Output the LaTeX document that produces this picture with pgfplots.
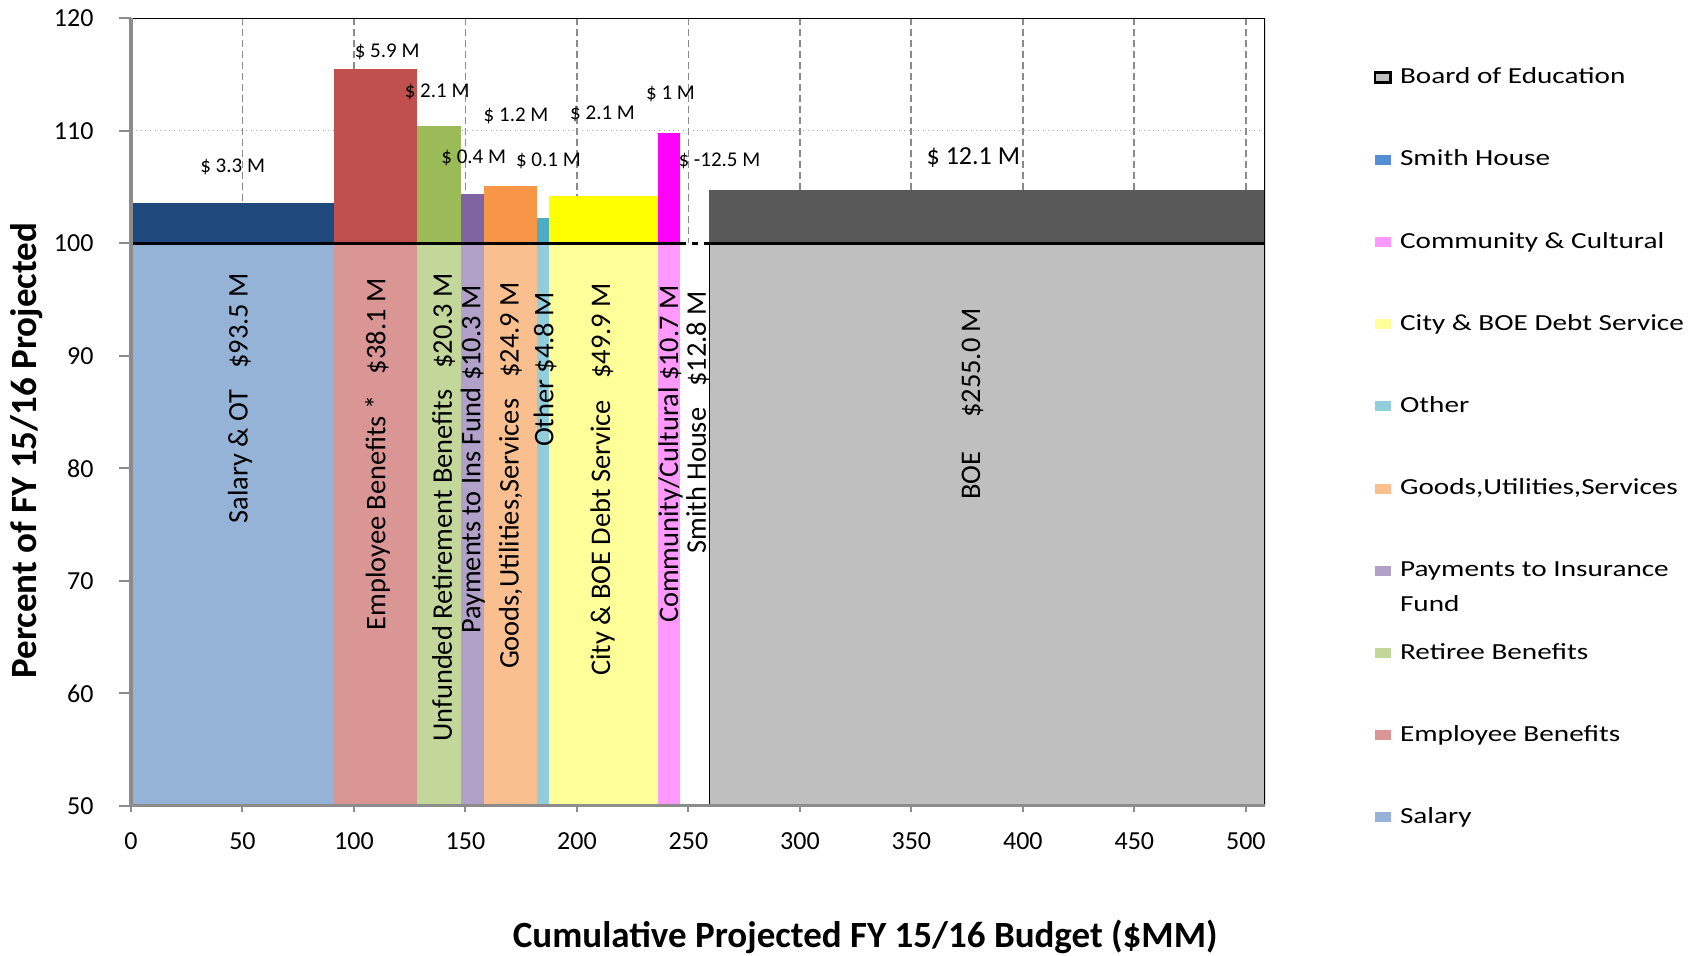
\documentclass[border=0pt]{standalone}
\usepackage{pgfplots}
\pgfplotsset{compat=1.18}
\usepackage{fontspec}
\setmainfont{Carlito}
\newfontfamily\legendfont[FakeStretch=1.27]{Carlito}

% light (budget) and dark (overrun) shades per category
\definecolor{salL}{HTML}{95B3D7}\definecolor{salD}{HTML}{1F497D}
\definecolor{empL}{HTML}{DA9694}\definecolor{empD}{HTML}{C0504D}
\definecolor{retL}{HTML}{C4D79B}\definecolor{retD}{HTML}{9BBB59}
\definecolor{insL}{HTML}{B1A0C7}\definecolor{insD}{HTML}{8064A2}
\definecolor{gooL}{HTML}{FABF8F}\definecolor{gooD}{HTML}{F79646}
\definecolor{othL}{HTML}{92CDDC}\definecolor{othD}{HTML}{4BACC6}
\definecolor{debL}{HTML}{FFFF99}\definecolor{debD}{HTML}{FFFF00}
\definecolor{comL}{HTML}{FF99FF}\definecolor{comD}{HTML}{FF00FF}
\definecolor{smiD}{HTML}{558ED5}
\definecolor{boeL}{HTML}{BFBFBF}\definecolor{boeD}{HTML}{595959}
\definecolor{axgray}{HTML}{8C8C8C}
\definecolor{gridgray}{HTML}{8A8A8A}

% grid behind the bars, axis lines and ticks above them
\pgfplotsset{layers/gridbehind/.define layer set={axis background,axis grid,main,axis ticks,axis lines,axis tick labels,axis descriptions,axis foreground}{}}

\newcommand{\toplab}[3]{\node[font=\fontsize{10.5}{12}\selectfont, inner sep=0pt] at (axis cs:#1,#2) {#3};}
\newcommand{\barlab}[3]{\node[rotate=90, anchor=east, inner sep=0pt, font=\fontsize{14.2}{16}\selectfont] at (axis cs:#1,#2) {#3};}

\begin{document}
\begin{tikzpicture}
\begin{axis}[
  set layers=gridbehind,
  scale only axis, width=567pt, height=393.7pt,
  xmin=0, xmax=508.6, ymin=50, ymax=120,
  xtick={0,50,...,500}, ytick={50,60,...,120},
  axis lines=left,
  axis line style={-, axgray, line width=1.6pt},
  tick align=outside,
  major tick length=6pt,
  x tick style={axgray, line width=1pt, yshift=3pt},
  y tick style={axgray, line width=1pt},
  xmajorgrids, ymajorgrids,
  x grid style={gridgray, line width=0.9pt, dash pattern=on 3.5pt off 2pt},
  y grid style={gray!70, line width=0.4pt, dotted},
  /pgf/number format/assume math mode=true,
  tick label style={font=\fontsize{13}{15}\selectfont},
  yticklabel style={xshift=-9.2pt},
  xticklabel style={yshift=-4.1pt},
  xlabel={Cumulative Projected FY 15/16 Budget (\$MM)},
  ylabel={Percent of FY 15/16 Projected},
  xlabel style={at={(axis description cs:0.6475,-0.1668)}, anchor=center, font=\bfseries\fontsize{18.5}{20}\selectfont},
  ylabel style={at={(axis description cs:-0.0917,0.451)}, anchor=center, font=\bfseries\fontsize{18.5}{20}\selectfont},
  legend image code/.code={\path[#1] (0pt,-2.5pt) rectangle (7.8pt,2.5pt);},
  legend cell align=left,
  legend style={at={(axis description cs:1.096,0.94)}, anchor=north west,
    draw=none, fill=none, inner sep=0pt, outer sep=0pt,
    row sep=29.1pt, column sep=4.1pt,
    font=\legendfont\fontsize{11.5}{17.3}\selectfont,
    nodes={inner sep=0pt, text height=9pt, text depth=3pt}},
]
% legend swatches
\addlegendimage{fill=boeL, draw=black, line width=1.2pt}
\addlegendentry{Board of Education}
\addlegendimage{fill=smiD, draw=none}
\addlegendentry{Smith House}
\addlegendimage{fill=comL, draw=none}
\addlegendentry{Community \& Cultural}
\addlegendimage{fill=debL, draw=none}
\addlegendentry{City \& BOE Debt Service}
\addlegendimage{fill=othL, draw=none}
\addlegendentry{Other}
\addlegendimage{fill=gooL, draw=none}
\addlegendentry{Goods,Utilities,Services}
\addlegendimage{fill=insL, draw=none}
\addlegendentry{\parbox[t]{150pt}{Payments to Insurance\\Fund}}
\addlegendimage{fill=retL, draw=none}
\addlegendentry{Retiree Benefits}
\addlegendimage{fill=empL, draw=none}
\addlegendentry{Employee Benefits}
\addlegendimage{fill=salL, draw=none}
\addlegendentry{Salary}

% budget blocks: width = projected spend, 50..100 percent
\addplot[fill=salL, draw=none, forget plot] coordinates {(0,50) (0,100) (91.2,100) (91.2,50)};
\addplot[fill=empL, draw=none, forget plot] coordinates {(91.2,50) (91.2,100) (128.2,100) (128.2,50)};
\addplot[fill=retL, draw=none, forget plot] coordinates {(128.2,50) (128.2,100) (148.2,100) (148.2,50)};
\addplot[fill=insL, draw=none, forget plot] coordinates {(148.2,50) (148.2,100) (158.1,100) (158.1,50)};
\addplot[fill=gooL, draw=none, forget plot] coordinates {(158.1,50) (158.1,100) (182.3,100) (182.3,50)};
\addplot[fill=othL, draw=none, forget plot] coordinates {(182.3,50) (182.3,100) (187.3,100) (187.3,50)};
\addplot[fill=debL, draw=none, forget plot] coordinates {(187.3,50) (187.3,100) (236.2,100) (236.2,50)};
\addplot[fill=comL, draw=none, forget plot] coordinates {(236.2,50) (236.2,100) (246.3,100) (246.3,50)};
\addplot[fill=white, draw=none, forget plot] coordinates {(246.3,50) (246.3,100) (259.4,100) (259.4,50)};
\addplot[fill=boeL, draw=black, line width=0.8pt, forget plot] coordinates {(259.4,50) (259.4,100) (508.3,100) (508.3,50) (259.4,50)};

% overrun blocks above 100 percent
\addplot[fill=salD, draw=none, forget plot] coordinates {(0,100) (0,103.6) (91.2,103.6) (91.2,100)};
\addplot[fill=empD, draw=none, forget plot] coordinates {(91.2,100) (91.2,115.5) (128.2,115.5) (128.2,100)};
\addplot[fill=retD, draw=none, forget plot] coordinates {(128.2,100) (128.2,110.4) (148.2,110.4) (148.2,100)};
\addplot[fill=insD, draw=none, forget plot] coordinates {(148.2,100) (148.2,104.4) (158.1,104.4) (158.1,100)};
\addplot[fill=gooD, draw=none, forget plot] coordinates {(158.1,100) (158.1,105.1) (182.3,105.1) (182.3,100)};
\addplot[fill=othD, draw=none, forget plot] coordinates {(182.3,100) (182.3,102.3) (187.3,102.3) (187.3,100)};
\addplot[fill=debD, draw=none, forget plot] coordinates {(187.3,100) (187.3,104.2) (236.2,104.2) (236.2,100)};
\addplot[fill=comD, draw=none, forget plot] coordinates {(236.2,100) (236.2,109.8) (246.3,109.8) (246.3,100)};
\addplot[fill=boeD, draw=none, forget plot] coordinates {(259.4,100) (259.4,104.75) (508.3,104.75) (508.3,100)};

% 100 percent reference line
\addplot[black, line width=1.2pt, forget plot] coordinates {(0,100) (246.3,100)};
\addplot[black, line width=1.2pt, dash pattern=on 3pt off 3pt, forget plot] coordinates {(246.3,100) (259.4,100)};
\addplot[black, line width=1.2pt, forget plot] coordinates {(259.4,100) (508.6,100)};

% frame: black on top and right, gray value axes over the blocks
\draw[black, line width=1pt] (rel axis cs:0,1) -- (rel axis cs:1,1) -- (rel axis cs:1,0);
\draw[axgray, line width=1.6pt] (rel axis cs:0,1) -- (rel axis cs:0,0) -- (rel axis cs:1,0);

% overrun amounts
\toplab{45.6}{106.84}{\$ 3.3 M}
\toplab{114.9}{117.04}{\$ 5.9 M}
\toplab{137.3}{113.5}{\$ 2.1 M}
\toplab{153.7}{107.6}{\$ 0.4 M}
\toplab{172.7}{111.3}{\$ 1.2 M}
\toplab{187.2}{107.3}{\$ 0.1 M}
\toplab{211.5}{111.55}{\$ 2.1 M}
\toplab{242.0}{113.3}{\$ 1 M}
\toplab{263.9}{107.3}{\$ -12.5 M}
\node[font=\fontsize{13}{15}\selectfont, inner sep=0pt] at (axis cs:377.8,107.6) {\$ 12.1 M};

% category names and budgets
\barlab{48.9}{97.4}{Salary \& OT\hspace{0.75em}\$93.5 M}
\barlab{110.6}{96.9}{Employee Benefits *\hspace{0.75em}\$38.1 M}
\barlab{140.2}{97.4}{Unfunded Retirement Benefits\hspace{0.75em}\$20.3 M}
\barlab{153.3}{96.3}{Payments to Ins Fund \$10.3 M}
\barlab{170.2}{96.6}{Goods,Utilities,Services\hspace{0.75em}\$24.9 M}
\barlab{185.7}{95.7}{Other \$4.8 M}
\barlab{211.5}{96.5}{City \& BOE Debt Service\hspace{0.75em}\$49.9 M}
\barlab{242.0}{96.3}{Community/Cultural \$10.7 M}
\barlab{254.1}{95.8}{Smith House\hspace{0.75em}\$12.8 M}
\barlab{377.4}{94.3}{BOE\hspace{1.2em}\$255.0 M}
\end{axis}
% fixed page frame around the plot area
\pgfresetboundingbox
\useasboundingbox (-65.5pt,-74.6pt) rectangle (782.5pt,402.9pt);
\end{tikzpicture}
\end{document}
